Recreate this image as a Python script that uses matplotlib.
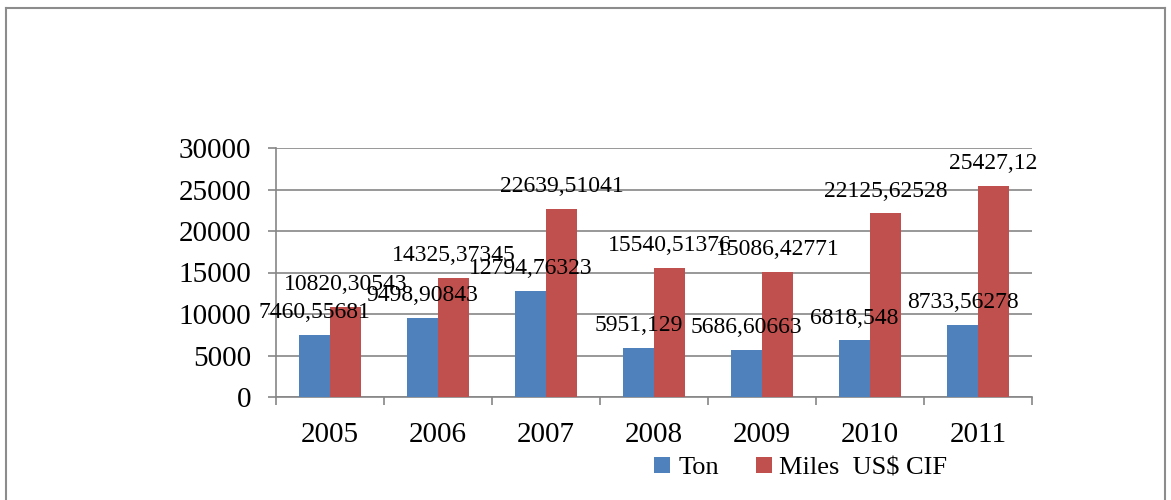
import matplotlib
matplotlib.use('Agg')
import matplotlib.pyplot as plt
from matplotlib.lines import Line2D
import numpy as np

plt.rcParams['font.family'] = ['Liberation Serif', 'DejaVu Serif']

# yearly figures
years = ['2005', '2006', '2007', '2008', '2009', '2010', '2011']
ton = [7460.55681, 9498.90843, 12794.76323, 5951.129, 5686.60663, 6818.548, 8733.56278]
miles_cif = [10820.30543, 14325.37345, 22639.51041, 15540.51376, 15086.42771, 22125.62528, 25427.12]
ton_labels = ['7460,55681', '9498,90843', '12794,76323', '5951,129', '5686,60663', '6818,548', '8733,56278']
cif_labels = ['10820,30543', '14325,37345', '22639,51041', '15540,51376', '15086,42771', '22125,62528', '25427,12']

blue = '#4F81BD'
red = '#C0504D'
grey = '#868686'

fig = plt.figure(figsize=(11.71, 5.0), dpi=100)
ax = fig.add_axes([0.2357, 0.206, 0.6456, 0.498])

x = np.arange(len(years))
w = 1 / 3.5
b1 = ax.bar(x - w / 2, ton, w, color=blue, label='Ton', zorder=3)
b2 = ax.bar(x + w / 2, miles_cif, w, color=red, label='Miles  US$ CIF', zorder=3)

for bars, labels in ((b1, ton_labels), (b2, cif_labels)):
    for rect, txt in zip(bars, labels):
        ax.annotate(txt, (rect.get_x() + rect.get_width() / 2, rect.get_height()),
                    xytext=(0, 16), textcoords='offset points', ha='center', va='center',
                    fontsize=17, zorder=5, annotation_clip=False)

ax.set_xlim(-0.5, len(years) - 0.5)
ax.set_ylim(0, 30000)
ax.set_yticks(np.arange(0, 30001, 5000))
ax.yaxis.grid(True, color=grey, linewidth=1.2, zorder=0)
ax.set_axisbelow(True)

ax.set_xticks(x)
ax.set_xticklabels(years)
ax.set_xticks(np.arange(-0.5, len(years)), minor=True)
ax.tick_params(axis='x', which='major', length=0, pad=18, labelsize=21)
ax.tick_params(axis='x', which='minor', length=6, width=1.2, color=grey, direction='out')
ax.tick_params(axis='y', length=6, width=1.2, color=grey, pad=12, labelsize=21)

for side in ('top', 'right'):
    ax.spines[side].set_visible(False)
for side in ('left', 'bottom'):
    ax.spines[side].set_color(grey)
    ax.spines[side].set_linewidth(1.2)

fig.legend(handles=[b1, b2], loc='center', bbox_to_anchor=(0.684, 0.064), ncol=2,
           frameon=False, fontsize=19, handlelength=0.6, handleheight=0.6,
           handletextpad=0.3, columnspacing=1.4)

# outer frame
fc = '#8C8C8C'
fig.add_artist(Line2D([0.0051, 0.0051], [0, 0.985], color=fc, lw=1.5, transform=fig.transFigure))
fig.add_artist(Line2D([0.0051, 0.9949], [0.985, 0.985], color=fc, lw=1.5, transform=fig.transFigure))
fig.add_artist(Line2D([0.9949, 0.9949], [0, 0.985], color=fc, lw=1.5, transform=fig.transFigure))

fig.savefig('out.png', dpi=100)
